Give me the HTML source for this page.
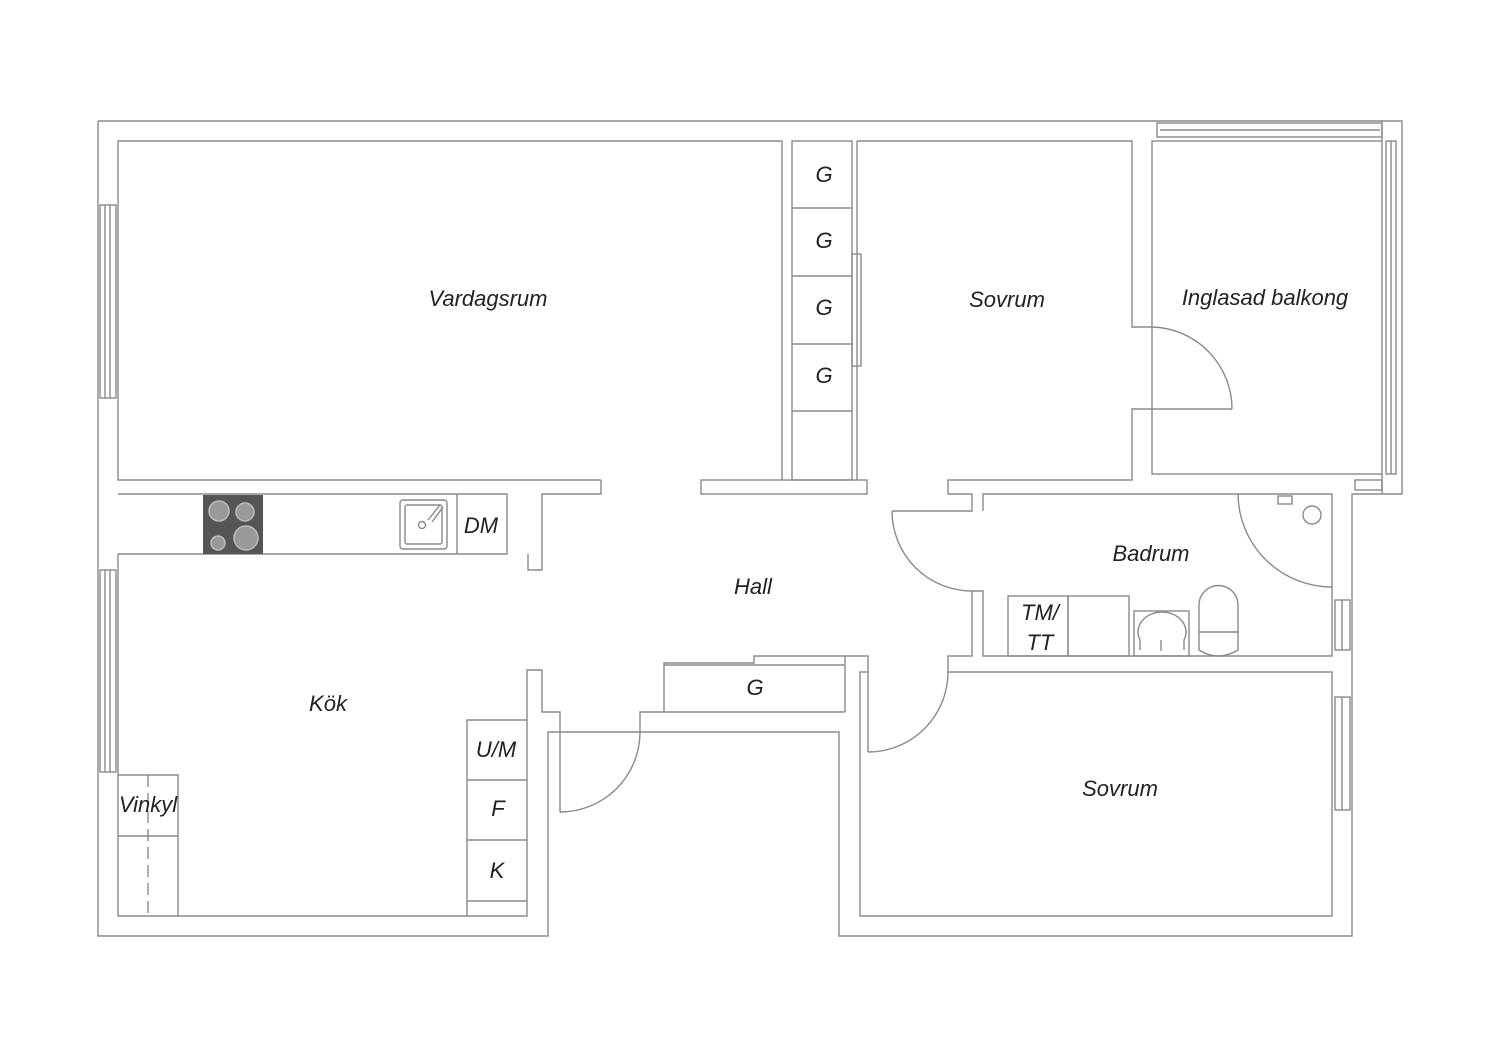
<!DOCTYPE html>
<html><head><meta charset="utf-8"><style>
html,body{margin:0;padding:0;background:#fff}
svg{display:block}
text{font-family:"Liberation Sans",sans-serif;font-style:italic;font-size:22px;fill:#222;text-anchor:middle}
</style></head><body>
<svg width="1500" height="1060" viewBox="0 0 1500 1060" xmlns="http://www.w3.org/2000/svg">
<g fill="none" stroke="#8a8a8a" stroke-width="1.4">
<!-- outer -->
<polyline points="98,121 1402,121 1402,494 1352,494 1352,936 839,936 839,732 548,732 548,936 98,936 98,121"/>
<!-- vardagsrum -->
<polyline points="601,480 118,480 118,141 782,141 782,480"/>
<rect x="701" y="480" width="166" height="14"/>
<polyline points="601,480 601,494 542,494 542,570 528,570 528,554"/>
<!-- kitchen counter -->
<polyline points="118,494 507,494 507,554 118,554"/>
<line x1="457" y1="494" x2="457" y2="554"/>
<rect x="400" y="500" width="47" height="49" rx="3"/>
<rect x="405" y="505" width="37" height="39" rx="2"/>
<circle cx="422" cy="525" r="3.5"/>
<line x1="428" y1="520" x2="440" y2="505"/>
<line x1="432" y1="522" x2="443" y2="507"/>
<!-- kitchen -->
<polyline points="118,554 118,916 527,916 527,670 542,670 542,712 560,712 560,812"/>
<path d="M560,812 A80,80 0 0 0 640,732"/>
<polyline points="640,732 640,712 664,712 845,712"/>
<polyline points="664,712 664,663 754,663 754,656 868,656 868,752"/>
<line x1="664" y1="665" x2="845" y2="665"/>
<line x1="845" y1="656" x2="845" y2="712"/>
<path d="M868,752 A80,80 0 0 0 948,672"/>
<polyline points="868,672 860,672 860,916 1332,916 1332,672 948,672 948,656 972,656 972,591"/>
<!-- cabinets -->
<polyline points="527,720 467,720 467,916"/>
<line x1="467" y1="780" x2="527" y2="780"/>
<line x1="467" y1="840" x2="527" y2="840"/>
<line x1="467" y1="901" x2="527" y2="901"/>
<polyline points="118,775 178,775 178,916"/>
<line x1="118" y1="836" x2="178" y2="836"/>
<line x1="148" y1="775" x2="148" y2="916" stroke-dasharray="12,6"/>
<!-- left windows -->
<rect x="100" y="205" width="16" height="193"/>
<line x1="105" y1="205" x2="105" y2="398"/><line x1="110" y1="205" x2="110" y2="398"/>
<rect x="100" y="570" width="16" height="202"/>
<line x1="105" y1="570" x2="105" y2="772"/><line x1="110" y1="570" x2="110" y2="772"/>
<!-- closets -->
<rect x="792" y="141" width="60" height="339"/>
<line x1="792" y1="208" x2="852" y2="208"/>
<line x1="792" y1="276" x2="852" y2="276"/>
<line x1="792" y1="344" x2="852" y2="344"/>
<line x1="792" y1="411" x2="852" y2="411"/>
<line x1="857" y1="141" x2="857" y2="480"/>
<rect x="852" y="254" width="9" height="112"/>
<!-- sovrum 1 -->
<polyline points="857,141 1132,141 1132,327 1152,327"/>
<polyline points="1232,409 1132,409 1132,480 948,480 948,494 972,494 972,511 892,511"/>
<path d="M1152,327 A82,82 0 0 1 1232,409"/>
<path d="M892,511 A80,80 0 0 0 972,591"/>
<!-- balcony -->
<rect x="1152" y="141" width="230" height="333"/>
<rect x="1157" y="123" width="225" height="14"/><line x1="1160" y1="130" x2="1380" y2="130"/>
<rect x="1386" y="141" width="10" height="333"/><line x1="1391" y1="141" x2="1391" y2="474"/>
<rect x="1355" y="480" width="27" height="10"/>
<line x1="1382" y1="121" x2="1382" y2="141"/>
<line x1="1382" y1="474" x2="1382" y2="494"/>
<!-- bathroom -->
<polyline points="983,511 983,494 1332,494 1332,656 983,656 983,591 972,591"/>
<rect x="1008" y="596" width="60" height="60"/>
<rect x="1068" y="596" width="61" height="60"/>
<rect x="1134" y="611" width="55" height="45"/>
<path d="M1140,650 L1140,640 A24,20 0 1 1 1184,640 L1184,650"/>
<line x1="1161" y1="640" x2="1161" y2="651"/>
<path d="M1199,650 L1199,605 A19,19 0 0 1 1238,605 L1238,650 Q1218,662 1199,650 Z"/>
<line x1="1199" y1="632" x2="1238" y2="632"/>
<path d="M1238,494 A94,94 0 0 0 1332,587"/>
<circle cx="1312" cy="515" r="9"/>
<rect x="1278" y="496" width="14" height="8"/>
<rect x="1335" y="600" width="15" height="50"/><line x1="1342" y1="600" x2="1342" y2="650"/>
<rect x="1335" y="697" width="15" height="113"/><line x1="1342" y1="697" x2="1342" y2="810"/>
</g>
<!-- stove -->
<rect x="203" y="495" width="60" height="59" fill="#555"/>
<g fill="#999" stroke="#bbb" stroke-width="1.5">
<circle cx="219" cy="511" r="10"/><circle cx="245" cy="512" r="9"/>
<circle cx="218" cy="543" r="7"/><circle cx="246" cy="538" r="12"/>
</g>
<text x="488" y="306">Vardagsrum</text>
<text x="1007" y="307">Sovrum</text>
<text x="1265" y="305">Inglasad balkong</text>
<text x="824" y="182">G</text>
<text x="824" y="248">G</text>
<text x="824" y="315">G</text>
<text x="824" y="383">G</text>
<text x="481" y="533">DM</text>
<text x="753" y="594">Hall</text>
<text x="1151" y="561">Badrum</text>
<text x="1040" y="620">TM/</text>
<text x="1040" y="650">TT</text>
<text x="755" y="695">G</text>
<text x="328" y="711">Kök</text>
<text x="148" y="812">Vinkyl</text>
<text x="496" y="757">U/M</text>
<text x="498" y="816">F</text>
<text x="497" y="878">K</text>
<text x="1120" y="796">Sovrum</text>
</svg>
</body></html>
